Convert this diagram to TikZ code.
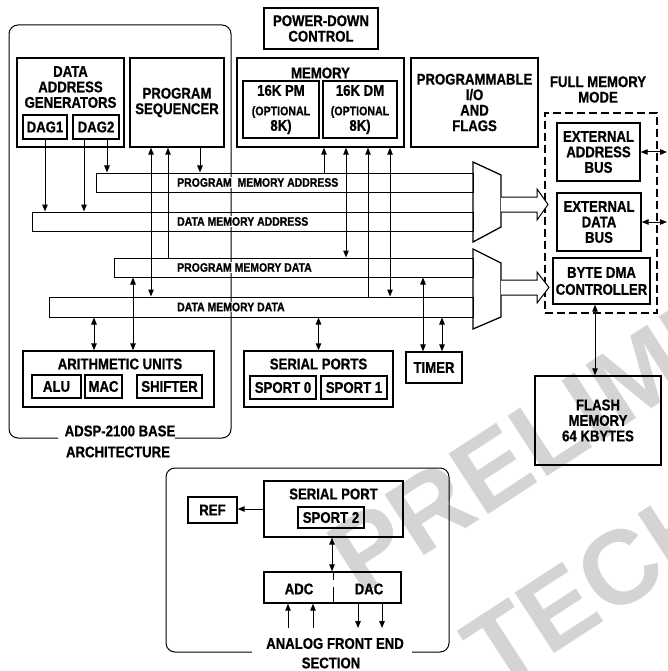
\documentclass[tikz,border=0pt]{standalone}
\usepackage{fontspec}
\setmainfont{Liberation Sans}[FakeStretch=0.85, BoldFeatures={FakeBold=0.8}]
\newfontfamily\wmfont{Liberation Sans}
\usetikzlibrary{arrows.meta, positioning, calc}
\newcommand\opt{\fontsize{12.5}{14}\selectfont}

\begin{document}
\begin{tikzpicture}[
    x=1pt, y=-1pt,
    >={Triangle[length=7pt, width=5.5pt]},
    font=\bfseries\fontsize{15.5}{15.5}\selectfont,
    box/.style   = {draw=black, line width=1.4pt, inner sep=0pt, align=center},
    sub/.style   = {box, line width=1.2pt},
    dbox/.style  = {draw=black, line width=1.4pt, dash pattern=on 8pt off 4pt},
    bus/.style   = {draw=black, line width=1pt, inner sep=0pt},
    blab/.style  = {anchor=west, fill=white, inner sep=1pt, font=\bfseries\fontsize{12.3}{12}\selectfont},
    txt/.style   = {align=center, inner sep=0pt},
    frame/.style = {draw=black, line width=1pt, rounded corners=9pt},
    link/.style  = {->, line width=1pt},
    both/.style  = {<->, line width=1pt},
    mux/.style   = {draw=black, line width=1.3pt, line join=miter},
    fat/.style   = {draw=black, line width=1pt, fill=white, line join=miter},
    wm/.style    = {rotate=33, text=black!17, inner sep=0pt, anchor=base west,
                    font=\wmfont\bfseries\fontsize{105}{105}\selectfont}
  ]
  \useasboundingbox (0,0) rectangle (668,671);

  % --- watermark ---
  \begin{scope}
    \clip (0,0) rectangle (668,671);
    \node[wm] (wm1) at (360,598) {PRELIMINARY};
    \node[wm] (wm2) at (495,693) {TECHNICAL DATA};
  \end{scope}

  % --- outlines ---
  \draw[frame] (58,438) -| (9,25) -| (231,438) -- (175,438);
  \node[txt] (basel) at (120,431) {ADSP-2100 BASE};
  \node[txt] (basea) at (118,452) {ARCHITECTURE};
  \draw[frame] (252,652) -| (166,468) -| (449,652) -- (412,652);
  \node[txt] (afe)  at (335,643.5) {ANALOG FRONT END};
  \node[txt] (afes) at (331,663) {SECTION};

  % --- top blocks ---
  \node[box, minimum width=107pt, minimum height=89pt] (dag) at (70.5,102.5) {};
  \node[txt] (dagt) at (70.5,87) {DATA\\ADDRESS\\GENERATORS};
  \node[sub, minimum width=44pt, minimum height=24pt] (dag1) at (45,127) {DAG1};
  \node[sub, minimum width=46pt, minimum height=24pt] (dag2) at (96,127) {DAG2};
  \node[box, minimum width=94pt, minimum height=89pt] (seq) at (177,102.5) {PROGRAM\\SEQUENCER};

  \node[box, minimum width=114pt, minimum height=41pt] (pwr) at (321,28.5) {POWER-DOWN\\CONTROL};
  \node[box, minimum width=167pt, minimum height=89pt] (mem) at (320.5,102.5) {};
  \node[txt] (memt) at (320.5,73) {MEMORY};
  \node[sub, minimum width=76pt, minimum height=57pt] (pm) at (281,109.5) {16K PM\\[4pt]\opt (OPTIONAL\\8K)};
  \node[sub, minimum width=74pt, minimum height=57pt] (dm) at (360,109.5) {16K DM\\[4pt]\opt (OPTIONAL\\8K)};
  \node[box, minimum width=127pt, minimum height=89pt] (pio) at (474.5,102.5) {PROGRAMMABLE\\I/O\\AND\\FLAGS};

  % --- full memory mode ---
  \node[txt] (fmm) at (598,89.5) {FULL MEMORY\\MODE};
  \node[dbox, minimum width=112pt, minimum height=200pt] (fmbox) at (601,213) {};
  \node[box, minimum width=83pt, minimum height=58pt] (eab) at (598.5,152) {EXTERNAL\\ADDRESS\\BUS};
  \node[box, minimum width=84pt, minimum height=58pt] (edb) at (599,222) {EXTERNAL\\DATA\\BUS};
  \node[box, minimum width=97pt, minimum height=46pt] (bdma) at (601.5,281) {BYTE DMA\\[1.5pt]CONTROLLER};
  \node[box, minimum width=126pt, minimum height=89pt] (flash) at (598,420.5) {FLASH\\MEMORY\\64 KBYTES};
  \coordinate (xab) at (667,152);
  \coordinate (xdb) at (667,222);

  % --- buses ---
  \node[bus, minimum width=377pt, minimum height=19pt] (pma) at (284.5,182.5) {};
  \node[bus, minimum width=441pt, minimum height=19pt] (dma) at (252.5,221.5) {};
  \node[bus, minimum width=359pt, minimum height=19pt] (pmd) at (293.5,267.5) {};
  \node[bus, minimum width=424pt, minimum height=20pt] (dmd) at (261,307) {};
  \node[blab] (pmal) at (176,182.5) {PROGRAM\ \ MEMORY ADDRESS};
  \node[blab] (dmal) at (176,221.5) {DATA MEMORY ADDRESS};
  \node[blab] (pmdl) at (176,267.5) {PROGRAM MEMORY DATA};
  \node[blab] (dmdl) at (176,307) {DATA MEMORY DATA};

  \draw[mux] (473,162) -- (501,175) -- (501,227) -- (473,242) -- cycle;
  \draw[mux] (473,249) -- (501,263) -- (501,317) -- (473,329) -- cycle;
  \draw[fat] (501,197) -- (537,197) -- (537,189) -- (548,204.5) -- (537,220) -- (537,212) -- (501,212);
  \draw[fat] (501,280) -- (537,280) -- (537,272) -- (549,287.5) -- (537,303) -- (537,295) -- (501,295);

  % --- lower blocks ---
  \node[box, minimum width=191pt, minimum height=56pt] (arith) at (118.5,379) {};
  \node[txt] (aritht) at (120,364) {ARITHMETIC UNITS};
  \node[sub, minimum width=49pt, minimum height=23pt] (alu) at (56.5,386.5) {ALU};
  \node[sub, minimum width=37pt, minimum height=23pt] (mac) at (103.5,386.5) {MAC};
  \node[sub, minimum width=65pt, minimum height=23pt] (shift) at (169.5,386.5) {SHIFTER};

  \node[box, minimum width=149pt, minimum height=56pt] (sports) at (318.5,379) {};
  \node[txt] (sportst) at (318.5,364) {SERIAL PORTS};
  \node[sub, minimum width=66pt, minimum height=23pt] (sp0) at (283,387.5) {SPORT 0};
  \node[sub, minimum width=66pt, minimum height=23pt] (sp1) at (354,387.5) {SPORT 1};
  \node[box, minimum width=56pt, minimum height=31pt] (timer) at (434,367.5) {TIMER};

  % --- analog front end ---
  \node[box, minimum width=139pt, minimum height=56pt] (sp) at (333.5,509) {};
  \node[txt] (spt) at (333.5,494) {SERIAL PORT};
  \node[sub, minimum width=66pt, minimum height=21pt] (sport2) at (331,517.5) {SPORT 2};
  \node[box, minimum width=49pt, minimum height=26pt] (ref) at (212.5,510) {REF};
  \node[box, minimum width=137pt, minimum height=31pt] (adda) at (332.5,587.5) {};
  \node[txt] (adc) at (299,589) {ADC};
  \node[txt] (dac) at (369,589) {DAC};
  \draw[line width=1pt, dash pattern=on 8pt off 7pt on 20pt] (333,572) -- (333,603);
  \coordinate (ain1) at (288,628);
  \coordinate (ain2) at (313,628);
  \coordinate (aout1) at (358,628);
  \coordinate (aout2) at (382,628);

  % --- links ---
  \draw[link] (dag1.south) -- (dag1.south |- dma.north);
  \draw[link] ([xshift=-12pt]dag2.south) -- ([xshift=-12pt]dag2.south |- dma.north);
  \draw[link] ([xshift=11pt]dag2.south) -- ([xshift=11pt]dag2.south |- pma.north);
  \draw[link] ([xshift=23pt]seq.south) -- ([xshift=23pt]seq.south |- pma.north);
  \draw[both] ([xshift=-26pt]seq.south) -- ([xshift=-26pt]seq.south |- dmd.north);
  \draw[link] ([xshift=-9pt]seq.south |- pmd.north) -- ([xshift=-9pt]seq.south);

  \draw[link] ([xshift=3.5pt]mem.south |- pma.north) -- ([xshift=3.5pt]mem.south);
  \draw[both] ([xshift=25.5pt]mem.south) -- ([xshift=25.5pt]mem.south |- pmd.north);
  \draw[link] ([xshift=47.5pt]mem.south |- dmd.north) -- ([xshift=47.5pt]mem.south);
  \draw[both] ([xshift=69.5pt]mem.south) -- ([xshift=69.5pt]mem.south |- dmd.north);

  \draw[both] ([xshift=-24.5pt]arith.north |- dmd.south) -- ([xshift=-24.5pt]arith.north);
  \draw[both] ([xshift=14.5pt]arith.north |- pmd.south) -- ([xshift=14.5pt]arith.north);
  \draw[both] (sports.north |- dmd.south) -- (sports.north);
  \draw[both] ([xshift=-11pt]timer.north |- pmd.south) -- ([xshift=-11pt]timer.north);
  \draw[both] ([xshift=8pt]timer.north |- dmd.south) -- ([xshift=8pt]timer.north);

  \draw[both] (eab.east) -- (xab);
  \draw[both] (edb.east) -- (xdb);
  \draw[both] ([xshift=-6.5pt]bdma.south) -- ([xshift=-6.5pt]bdma.south |- flash.north);

  \draw[link] (sp.west) -- (sp.west -| ref.east);
  \draw[both] ([xshift=-1.5pt]sp.south) -- ([xshift=-1.5pt]sp.south |- adda.north);
  \draw[link] (ain1) -- (ain1 |- adda.south);
  \draw[link] (ain2) -- (ain2 |- adda.south);
  \draw[link] (aout1 |- adda.south) -- (aout1);
  \draw[link] (aout2 |- adda.south) -- (aout2);

\end{tikzpicture}
\end{document}
